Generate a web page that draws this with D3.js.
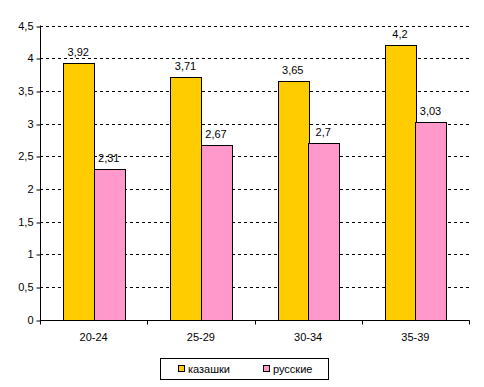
<!DOCTYPE html>
<html><head><meta charset="utf-8">
<script src="https://cdn.jsdelivr.net/npm/d3@7"></script>
<style>body{margin:0;background:#fff}text{font-family:"Liberation Sans",Arial,sans-serif;font-size:11px;fill:#000}</style>
</head><body><svg id="c" width="484" height="387"></svg>
<script>
const categories = ["20-24","25-29","30-34","35-39"];
const seriesNames = ["казашки","русские"];
const kazakh = [3.92,3.71,3.65,4.2];
const russian = [2.31,2.67,2.7,3.03];
const kazakhLabels = ["3,92","3,71","3,65","4,2"];
const russianLabels = ["2,31","2,67","2,7","3,03"];
const yTicks = [0,0.5,1,1.5,2,2.5,3,3.5,4,4.5];
const colors = ["#FFCC00","#FF99CC"];

const svg = d3.select("#c");
const x0 = d3.scaleBand().domain(categories).range([40,469]).padding(0);
const x1 = d3.scaleBand().domain(seriesNames).range([23,84]).padding(0);
const y = d3.scaleLinear().domain([0,4.5]).range([319.5,25.5]);
const fmt = d => String(d).replace(".",",");

// grid
svg.append("g").selectAll("line").data(yTicks.filter(d=>d>0)).join("line")
  .attr("x1",40).attr("x2",469).attr("y1",d=>Math.round(y(d))+0.5).attr("y2",d=>Math.round(y(d))+0.5)
  .attr("stroke","#000").attr("stroke-dasharray","3,3");

const data = [kazakh, russian];
const labels = [kazakhLabels, russianLabels];
data.forEach((vals,si)=>{
  const g = svg.append("g");
  g.selectAll("rect").data(vals).join("rect")
    .attr("x",(d,i)=>Math.round(x0(categories[i])+x1(seriesNames[si]))+0.5)
    .attr("width",Math.round(x1.bandwidth()))
    .attr("y",d=>Math.round(y(d))+0.5)
    .attr("height",d=>Math.round(y(0))-Math.round(y(d)))
    .attr("fill",colors[si]).attr("stroke","#000");
  g.selectAll("text").data(vals).join("text")
    .attr("x",(d,i)=>x0(categories[i])+x1(seriesNames[si])+x1.bandwidth()/2)
    .attr("y",d=>y(d)-7)
    .attr("text-anchor","middle").text((d,i)=>labels[si][i]);
});

// y axis
const ya = svg.append("g").attr("transform","translate(40.5,0)")
  .call(d3.axisLeft(y).tickValues(yTicks).tickFormat(fmt).tickSize(4).tickPadding(3));
ya.select(".domain").attr("d","M0,"+y(4.5)+"V"+(Math.round(y(0))+0.5));
ya.selectAll("text").style("font-size","11px").style("font-family","Liberation Sans, Arial, sans-serif");
ya.selectAll(".tick line").attr("transform",d=>"translate(0,"+(Math.round(y(d))+0.5-y(d))+")");

// x axis
const xa = svg.append("g").attr("transform","translate(0,"+(Math.round(y(0))+0.5)+")");
xa.append("line").attr("x1",40).attr("x2",469.5).attr("stroke","#000");
const bounds = [40].concat(categories.map(c=>x0(c)+x0.bandwidth()));
xa.selectAll("line.t").data(bounds).join("line").attr("class","t")
  .attr("x1",d=>Math.round(d)+0.5).attr("x2",d=>Math.round(d)+0.5).attr("y1",0).attr("y2",4).attr("stroke","#000");
xa.selectAll("text").data(categories).join("text")
  .attr("x",d=>x0(d)+x0.bandwidth()/2).attr("y",20).attr("text-anchor","middle").text(d=>d);

// legend
const lg = svg.append("g");
lg.append("rect").attr("x",160.5).attr("y",358.5).attr("width",168).attr("height",21).attr("fill","#fff").attr("stroke","#000");
const lx = [178,263];
seriesNames.forEach((s,i)=>{
  lg.append("rect").attr("x",lx[i]+0.5).attr("y",365.5).attr("width",6).attr("height",6).attr("fill",colors[i]).attr("stroke","#000");
  lg.append("text").attr("x",lx[i]+10).attr("y",372.5).text(s);
});
</script></body></html>
